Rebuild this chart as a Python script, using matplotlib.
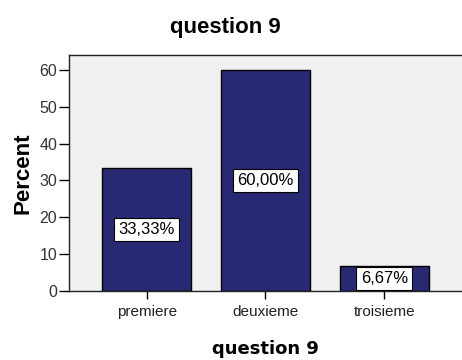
#!/usr/bin/python3

import matplotlib
matplotlib.use("Agg")
import matplotlib.pyplot as plt

categories = ["premiere", "deuxieme", "troisieme"]
percent = [33.33, 60.00, 6.67]
yticks = [0, 10, 20, 30, 40, 50, 60]

#_____________________________________________________________________________
def main():

    plt.rcParams["font.family"] = ["Liberation Sans", "DejaVu Sans"]

    fig = plt.figure(figsize=(4.62, 3.6), dpi=100)
    ax = fig.add_axes([0.149, 0.192, 0.851, 0.655])
    ax.set_facecolor("#f0f0f0")

    pos = list(range(len(categories)))
    ax.bar(pos, percent, width=0.75, color="#272a72", edgecolor="black", linewidth=1.0, zorder=2)

    # value boxes at half bar height
    for x, v in zip(pos, percent):
        txt = ("%.2f%%" % v).replace(".", ",")
        ax.text(x, v / 2, txt, ha="center", va="center", fontsize=12, zorder=3,
                bbox=dict(boxstyle="square,pad=0.25", fc="white", ec="black", lw=0.8))

    ax.set_xlim(-0.655, 2.655)
    ax.set_ylim(0, 64)
    ax.set_xticks(pos)
    ax.set_xticklabels(categories, fontsize=11, color="#222222")
    ax.set_yticks(yticks)
    ax.set_yticklabels([str(t) for t in yticks], fontsize=11.5, color="#333333")
    ax.tick_params(axis="y", length=7.5, width=1, direction="out", pad=1)
    ax.tick_params(axis="x", length=6, width=1, direction="out", pad=4)

    for s in ["left", "bottom", "top"]:
        ax.spines[s].set_color("#222222")
        ax.spines[s].set_linewidth(1.0)
    ax.spines["right"].set_visible(False)

    ax.set_ylabel("Percent", fontsize=16, fontweight="bold", labelpad=4)
    ax.set_xlabel("question 9", fontsize=13, fontweight="bold", family="DejaVu Sans", labelpad=15)
    fig.text(0.487, 0.925, "question 9", ha="center", va="center", fontsize=16, fontweight="bold")

    fig.savefig("out.png", dpi=100)
    plt.close()

#main

#_____________________________________________________________________________
if __name__ == "__main__":

    main()
